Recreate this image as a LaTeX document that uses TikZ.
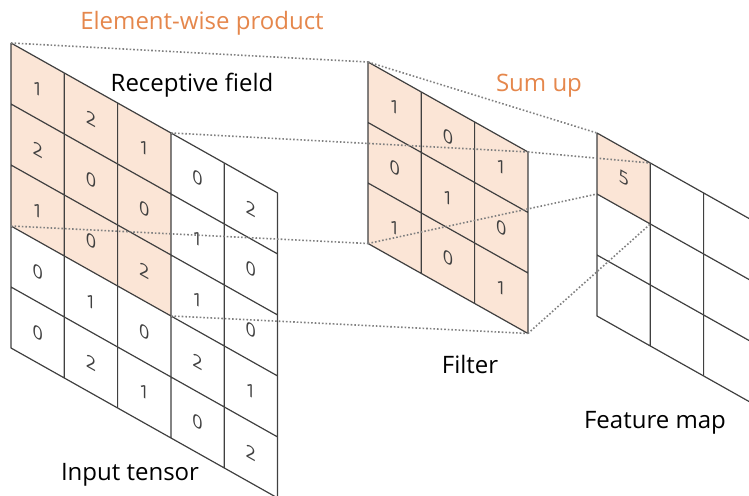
\documentclass[tikz,border=0pt]{standalone}
\usepackage{fontspec}
\setmainfont{Open Sans}
\definecolor{peach}{RGB}{251,229,214}
\definecolor{sumorange}{RGB}{229,135,76}
\definecolor{gridgray}{RGB}{64,64,64}
\begin{document}
\begin{tikzpicture} [x=1pt, y=-1pt,
  gridline/.style={draw=gridgray, line width=1.2pt},
  link/.style={draw=gray, dotted, line width=1.6pt},
  num/.style={transform shape, text=gridgray, font=\fontsize{18}{18}\selectfont},
  lbl/.style={anchor=base, font=\fontsize{24}{28}\selectfont},
  orangelbl/.style={lbl, text=sumorange}]
\useasboundingbox (0,0) rectangle (749,495);
\clip (0,0) rectangle (749,495);
% input tensor
\begin{scope} [shift={(11pt,-43pt)}, yslant=-0.5625, x=53.3pt, y=-61pt]
\fill [peach] (0,0) -- (3,0) -- (3,3) -- (0,3) -- cycle;
\draw [gridline] (0,0) -- (0,5) (1,0) -- (1,5) (2,0) -- (2,5) (3,0) -- (3,5) (4,0) -- (4,5) (5,0) -- (5,5)
(0,0) -- (5,0) (0,1) -- (5,1) (0,2) -- (5,2) (0,3) -- (5,3) (0,4) -- (5,4) (0,5) -- (5,5);
\coordinate (in1) at (0,0);
\coordinate (in2) at (3,0);
\coordinate (in3) at (0,3);
\coordinate (in4) at (3,3);
\node [num] (x11) at (0.5,0.5) {1}; \node [num] (x12) at (1.5,0.5) {2}; \node [num] (x13) at (2.5,0.5) {1}; \node [num] (x14) at (3.5,0.5) {0}; \node [num] (x15) at (4.5,0.5) {2};
\node [num] (x21) at (0.5,1.5) {2}; \node [num] (x22) at (1.5,1.5) {0}; \node [num] (x23) at (2.5,1.5) {0}; \node [num] (x24) at (3.5,1.5) {1}; \node [num] (x25) at (4.5,1.5) {0};
\node [num] (x31) at (0.5,2.5) {1}; \node [num] (x32) at (1.5,2.5) {0}; \node [num] (x33) at (2.5,2.5) {2}; \node [num] (x34) at (3.5,2.5) {1}; \node [num] (x35) at (4.5,2.5) {0};
\node [num] (x41) at (0.5,3.5) {0}; \node [num] (x42) at (1.5,3.5) {1}; \node [num] (x43) at (2.5,3.5) {0}; \node [num] (x44) at (3.5,3.5) {2}; \node [num] (x45) at (4.5,3.5) {1};
\node [num] (x51) at (0.5,4.5) {0}; \node [num] (x52) at (1.5,4.5) {2}; \node [num] (x53) at (2.5,4.5) {1}; \node [num] (x54) at (3.5,4.5) {0}; \node [num] (x55) at (4.5,4.5) {2};
\end{scope}
% filter
\begin{scope} [shift={(368pt,-62pt)}, yslant=-0.5625, x=53.3pt, y=-60.5pt]
\fill [peach] (0,0) -- (3,0) -- (3,3) -- (0,3) -- cycle;
\draw [gridline] (0,0) -- (0,3) (1,0) -- (1,3) (2,0) -- (2,3) (3,0) -- (3,3)
(0,0) -- (3,0) (0,1) -- (3,1) (0,2) -- (3,2) (0,3) -- (3,3);
\coordinate (f1) at (0,0);
\coordinate (f2) at (3,0);
\coordinate (f3) at (0,3);
\coordinate (f4) at (3,3);
\node [num] (w11) at (0.5,0.5) {1}; \node [num] (w12) at (1.5,0.5) {0}; \node [num] (w13) at (2.5,0.5) {1};
\node [num] (w21) at (0.5,1.5) {0}; \node [num] (w22) at (1.5,1.5) {1}; \node [num] (w23) at (2.5,1.5) {0};
\node [num] (w31) at (0.5,2.5) {1}; \node [num] (w32) at (1.5,2.5) {0}; \node [num] (w33) at (2.5,2.5) {1};
\end{scope}
% feature map
\begin{scope} [shift={(597pt,-133pt)}, yslant=-0.5625, x=53.3pt, y=-61pt]
\fill [peach] (0,0) -- (1,0) -- (1,1) -- (0,1) -- cycle;
\draw [gridline] (0,0) -- (0,3) (1,0) -- (1,3) (2,0) -- (2,3) (3,0) -- (3,3)
(0,0) -- (3,0) (0,1) -- (3,1) (0,2) -- (3,2) (0,3) -- (3,3);
\coordinate (m1) at (0,0);
\coordinate (m2) at (1,0);
\coordinate (m3) at (0,1);
\coordinate (m4) at (1,1);
\node [num] (y11) at (0.5,0.5) {5};
\end{scope}
% dotted links
\draw [link] (in1) -- (f1) (in2) -- (f2) (in3) -- (f3) (in4) -- (f4);
\draw [link] (f1) -- (m1) (f2) -- (m2) (f3) -- (m3) (f4) -- (m4);
% labels
\node [orangelbl] (prod) at (202,30) {Element-wise product};
\node [lbl] (field) at (192,91) {Receptive field};
\node [orangelbl] (sum) at (539,92) {Sum up};
\node [lbl] (filt) at (470,373) {Filter};
\node [lbl] (fmap) at (655,428) {Feature map};
\node [lbl] (inp) at (130,480) {Input tensor};
\end{tikzpicture}
\end{document}
